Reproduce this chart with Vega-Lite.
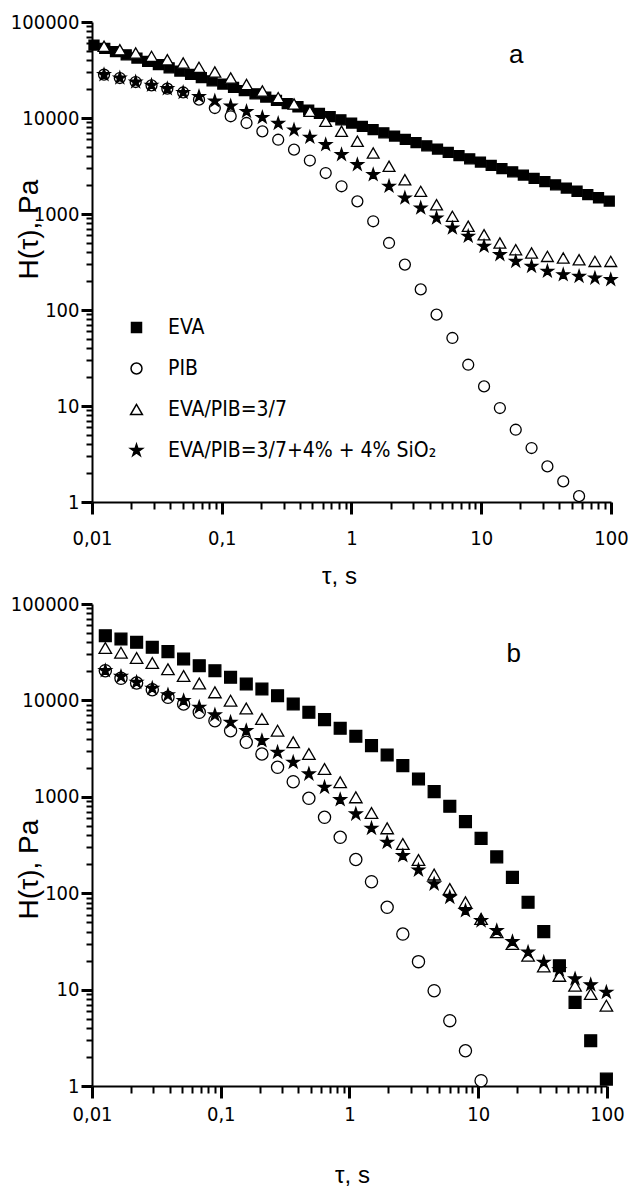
{
 "$schema": "https://vega.github.io/schema/vega-lite/v6.json",
 "background": "white",
 "padding": {"left": 10, "top": 12, "right": 0, "bottom": 0},
 "spacing": 6,
 "config": {
  "view": {"stroke": null},
  "axis": {"grid": false, "ticks": true, "domainColor": "black", "domainWidth": 2, "labelColor": "black", "titleColor": "black", "labelFont": "Liberation Sans Narrow, DejaVu Sans Condensed, sans-serif", "labelFontSize": 20, "labelFlush": false, "labelOverlap": false, "titleFont": "Liberation Sans, Arial, sans-serif", "titleFontWeight": "normal"},
  "legend": {"labelFont": "Liberation Sans Narrow, DejaVu Sans Condensed, sans-serif", "labelFontSize": 21, "labelColor": "black", "rowPadding": 19, "labelOffset": 21, "padding": 0, "symbolOpacity": 1, "labelLimit": 500}
 },
 "datasets": {
  "a": [
   {"series":"EVA","tau":0.01036,"H":57540},{"series":"EVA","tau":0.01254,"H":53230},{"series":"EVA","tau":0.01517,"H":49240},{"series":"EVA","tau":0.01835,"H":45530},{"series":"EVA","tau":0.0222,"H":42130},{"series":"EVA","tau":0.02686,"H":38960},{"series":"EVA","tau":0.03249,"H":36050},{"series":"EVA","tau":0.03931,"H":33340},{"series":"EVA","tau":0.04756,"H":30840},{"series":"EVA","tau":0.05754,"H":28530},{"series":"EVA","tau":0.06962,"H":26390},{"series":"EVA","tau":0.08423,"H":24410},{"series":"EVA","tau":0.1019,"H":22580},{"series":"EVA","tau":0.1233,"H":20890},{"series":"EVA","tau":0.1492,"H":19320},{"series":"EVA","tau":0.1805,"H":17870},{"series":"EVA","tau":0.2183,"H":16530},{"series":"EVA","tau":0.2641,"H":15290},{"series":"EVA","tau":0.3196,"H":14140},{"series":"EVA","tau":0.3866,"H":13090},{"series":"EVA","tau":0.4677,"H":12100},{"series":"EVA","tau":0.5659,"H":11200},{"series":"EVA","tau":0.6846,"H":10350},{"series":"EVA","tau":0.8283,"H":9580},{"series":"EVA","tau":1.002,"H":8862},{"series":"EVA","tau":1.212,"H":8198},{"series":"EVA","tau":1.467,"H":7583},{"series":"EVA","tau":1.775,"H":7015},{"series":"EVA","tau":2.147,"H":6489},{"series":"EVA","tau":2.598,"H":6003},{"series":"EVA","tau":3.143,"H":5552},{"series":"EVA","tau":3.803,"H":5136},{"series":"EVA","tau":4.601,"H":4751},{"series":"EVA","tau":5.567,"H":4395},{"series":"EVA","tau":6.735,"H":4065},{"series":"EVA","tau":8.147,"H":3760},{"series":"EVA","tau":9.856,"H":3478},{"series":"EVA","tau":11.93,"H":3217},{"series":"EVA","tau":14.43,"H":2976},{"series":"EVA","tau":17.46,"H":2753},{"series":"EVA","tau":21.12,"H":2546},{"series":"EVA","tau":25.55,"H":2355},{"series":"EVA","tau":30.92,"H":2179},{"series":"EVA","tau":37.4,"H":2015},{"series":"EVA","tau":45.25,"H":1864},{"series":"EVA","tau":54.74,"H":1725},{"series":"EVA","tau":66.22,"H":1595},{"series":"EVA","tau":80.13,"H":1476},{"series":"EVA","tau":96.94,"H":1365},
   {"series":"PIB","tau":0.01238,"H":28250},{"series":"PIB","tau":0.01639,"H":26100},{"series":"PIB","tau":0.02171,"H":23710},{"series":"PIB","tau":0.02875,"H":21910},{"series":"PIB","tau":0.03807,"H":20190},{"series":"PIB","tau":0.05043,"H":18440},{"series":"PIB","tau":0.06679,"H":15530},{"series":"PIB","tau":0.08845,"H":12700},{"series":"PIB","tau":0.1172,"H":10420},{"series":"PIB","tau":0.1552,"H":8870},{"series":"PIB","tau":0.2056,"H":7265},{"series":"PIB","tau":0.2723,"H":5940},{"series":"PIB","tau":0.3606,"H":4675},{"series":"PIB","tau":0.4776,"H":3607},{"series":"PIB","tau":0.6326,"H":2673},{"series":"PIB","tau":0.838,"H":1944},{"series":"PIB","tau":1.11,"H":1356},{"series":"PIB","tau":1.47,"H":840},{"series":"PIB","tau":1.947,"H":499},{"series":"PIB","tau":2.579,"H":297},{"series":"PIB","tau":3.416,"H":164},{"series":"PIB","tau":4.524,"H":89.4},{"series":"PIB","tau":5.993,"H":51.1},{"series":"PIB","tau":7.937,"H":26.9},{"series":"PIB","tau":10.51,"H":16.0},{"series":"PIB","tau":13.92,"H":9.53},{"series":"PIB","tau":18.44,"H":5.66},{"series":"PIB","tau":24.42,"H":3.65},{"series":"PIB","tau":32.35,"H":2.35},{"series":"PIB","tau":42.85,"H":1.64},{"series":"PIB","tau":56.75,"H":1.15},
   {"series":"EVA/PIB=3/7","tau":0.01238,"H":55850},{"series":"EVA/PIB=3/7","tau":0.01639,"H":51460},{"series":"EVA/PIB=3/7","tau":0.02171,"H":47500},{"series":"EVA/PIB=3/7","tau":0.02875,"H":43880},{"series":"EVA/PIB=3/7","tau":0.03807,"H":40420},{"series":"EVA/PIB=3/7","tau":0.05043,"H":37390},{"series":"EVA/PIB=3/7","tau":0.06679,"H":33740},{"series":"EVA/PIB=3/7","tau":0.08845,"H":30130},{"series":"EVA/PIB=3/7","tau":0.1172,"H":26100},{"series":"EVA/PIB=3/7","tau":0.1552,"H":22340},{"series":"EVA/PIB=3/7","tau":0.2056,"H":19100},{"series":"EVA/PIB=3/7","tau":0.2723,"H":16300},{"series":"EVA/PIB=3/7","tau":0.3606,"H":13990},{"series":"EVA/PIB=3/7","tau":0.4776,"H":11750},{"series":"EVA/PIB=3/7","tau":0.6326,"H":9250},{"series":"EVA/PIB=3/7","tau":0.838,"H":7280},{"series":"EVA/PIB=3/7","tau":1.11,"H":5720},{"series":"EVA/PIB=3/7","tau":1.47,"H":4320},{"series":"EVA/PIB=3/7","tau":1.947,"H":3140},{"series":"EVA/PIB=3/7","tau":2.579,"H":2275},{"series":"EVA/PIB=3/7","tau":3.416,"H":1722},{"series":"EVA/PIB=3/7","tau":4.524,"H":1249},{"series":"EVA/PIB=3/7","tau":5.993,"H":946},{"series":"EVA/PIB=3/7","tau":7.937,"H":745},{"series":"EVA/PIB=3/7","tau":10.51,"H":608},{"series":"EVA/PIB=3/7","tau":13.92,"H":499},{"series":"EVA/PIB=3/7","tau":18.44,"H":425},{"series":"EVA/PIB=3/7","tau":24.42,"H":393},{"series":"EVA/PIB=3/7","tau":32.35,"H":362},{"series":"EVA/PIB=3/7","tau":42.85,"H":348},{"series":"EVA/PIB=3/7","tau":56.75,"H":334},{"series":"EVA/PIB=3/7","tau":75.16,"H":321},{"series":"EVA/PIB=3/7","tau":99.56,"H":321},
   {"series":"EVA/PIB=3/7+4% + 4% SiO₂","tau":0.01238,"H":28250},{"series":"EVA/PIB=3/7+4% + 4% SiO₂","tau":0.01639,"H":26100},{"series":"EVA/PIB=3/7+4% + 4% SiO₂","tau":0.02171,"H":23710},{"series":"EVA/PIB=3/7+4% + 4% SiO₂","tau":0.02875,"H":21910},{"series":"EVA/PIB=3/7+4% + 4% SiO₂","tau":0.03807,"H":20190},{"series":"EVA/PIB=3/7+4% + 4% SiO₂","tau":0.05043,"H":18440},{"series":"EVA/PIB=3/7+4% + 4% SiO₂","tau":0.06679,"H":16750},{"series":"EVA/PIB=3/7+4% + 4% SiO₂","tau":0.08845,"H":15030},{"series":"EVA/PIB=3/7+4% + 4% SiO₂","tau":0.1172,"H":13330},{"series":"EVA/PIB=3/7+4% + 4% SiO₂","tau":0.1552,"H":11690},{"series":"EVA/PIB=3/7+4% + 4% SiO₂","tau":0.2056,"H":10120},{"series":"EVA/PIB=3/7+4% + 4% SiO₂","tau":0.2723,"H":8770},{"series":"EVA/PIB=3/7+4% + 4% SiO₂","tau":0.3606,"H":7500},{"series":"EVA/PIB=3/7+4% + 4% SiO₂","tau":0.4776,"H":6295},{"series":"EVA/PIB=3/7+4% + 4% SiO₂","tau":0.6326,"H":5272},{"series":"EVA/PIB=3/7+4% + 4% SiO₂","tau":0.838,"H":4150},{"series":"EVA/PIB=3/7+4% + 4% SiO₂","tau":1.11,"H":3265},{"series":"EVA/PIB=3/7+4% + 4% SiO₂","tau":1.47,"H":2567},{"series":"EVA/PIB=3/7+4% + 4% SiO₂","tau":1.947,"H":1944},{"series":"EVA/PIB=3/7+4% + 4% SiO₂","tau":2.579,"H":1468},{"series":"EVA/PIB=3/7+4% + 4% SiO₂","tau":3.416,"H":1155},{"series":"EVA/PIB=3/7+4% + 4% SiO₂","tau":4.524,"H":908},{"series":"EVA/PIB=3/7+4% + 4% SiO₂","tau":5.993,"H":714},{"series":"EVA/PIB=3/7+4% + 4% SiO₂","tau":7.937,"H":586},{"series":"EVA/PIB=3/7+4% + 4% SiO₂","tau":10.51,"H":461},{"series":"EVA/PIB=3/7+4% + 4% SiO₂","tau":13.92,"H":377},{"series":"EVA/PIB=3/7+4% + 4% SiO₂","tau":18.44,"H":321},{"series":"EVA/PIB=3/7+4% + 4% SiO₂","tau":24.42,"H":285},{"series":"EVA/PIB=3/7+4% + 4% SiO₂","tau":32.35,"H":253},{"series":"EVA/PIB=3/7+4% + 4% SiO₂","tau":42.85,"H":233},{"series":"EVA/PIB=3/7+4% + 4% SiO₂","tau":56.75,"H":224},{"series":"EVA/PIB=3/7+4% + 4% SiO₂","tau":75.16,"H":215},{"series":"EVA/PIB=3/7+4% + 4% SiO₂","tau":99.56,"H":207}
  ],
  "b": [
   {"series":"EVA","tau":0.01269,"H":46880},{"series":"EVA","tau":0.01679,"H":43330},{"series":"EVA","tau":0.02221,"H":40060},{"series":"EVA","tau":0.02939,"H":35570},{"series":"EVA","tau":0.0389,"H":32010},{"series":"EVA","tau":0.05147,"H":26880},{"series":"EVA","tau":0.06809,"H":22900},{"series":"EVA","tau":0.0901,"H":20320},{"series":"EVA","tau":0.1192,"H":17370},{"series":"EVA","tau":0.1578,"H":14800},{"series":"EVA","tau":0.2088,"H":13130},{"series":"EVA","tau":0.2762,"H":11190},{"series":"EVA","tau":0.3655,"H":9180},{"series":"EVA","tau":0.4836,"H":7530},{"series":"EVA","tau":0.6398,"H":6310},{"series":"EVA","tau":0.8466,"H":5140},{"series":"EVA","tau":1.12,"H":4245},{"series":"EVA","tau":1.482,"H":3390},{"series":"EVA","tau":1.961,"H":2715},{"series":"EVA","tau":2.595,"H":2104},{"series":"EVA","tau":3.434,"H":1531},{"series":"EVA","tau":4.544,"H":1131},{"series":"EVA","tau":6.012,"H":797},{"series":"EVA","tau":7.955,"H":552},{"series":"EVA","tau":10.52,"H":371},{"series":"EVA","tau":13.92,"H":238},{"series":"EVA","tau":18.43,"H":146},{"series":"EVA","tau":24.38,"H":80.5},{"series":"EVA","tau":32.27,"H":39.9},{"series":"EVA","tau":42.69,"H":17.7},{"series":"EVA","tau":56.48,"H":7.38},{"series":"EVA","tau":74.73,"H":2.95},{"series":"EVA","tau":98.9,"H":1.18},
   {"series":"PIB","tau":0.01269,"H":20330},{"series":"PIB","tau":0.01679,"H":16950},{"series":"PIB","tau":0.02221,"H":15150},{"series":"PIB","tau":0.02939,"H":12910},{"series":"PIB","tau":0.0389,"H":10770},{"series":"PIB","tau":0.05147,"H":9177},{"series":"PIB","tau":0.06809,"H":7524},{"series":"PIB","tau":0.0901,"H":6158},{"series":"PIB","tau":0.1192,"H":4850},{"series":"PIB","tau":0.1578,"H":3676},{"series":"PIB","tau":0.2088,"H":2780},{"series":"PIB","tau":0.2762,"H":2023},{"series":"PIB","tau":0.3655,"H":1434},{"series":"PIB","tau":0.4836,"H":965},{"series":"PIB","tau":0.6398,"H":613},{"series":"PIB","tau":0.8466,"H":380},{"series":"PIB","tau":1.12,"H":223.7},{"series":"PIB","tau":1.482,"H":131.6},{"series":"PIB","tau":1.961,"H":71.4},{"series":"PIB","tau":2.595,"H":37.7},{"series":"PIB","tau":3.434,"H":19.5},{"series":"PIB","tau":4.544,"H":9.74},{"series":"PIB","tau":6.012,"H":4.76},{"series":"PIB","tau":7.955,"H":2.32},{"series":"PIB","tau":10.52,"H":1.135},
   {"series":"EVA/PIB=3/7","tau":0.01269,"H":34970},{"series":"EVA/PIB=3/7","tau":0.01679,"H":31250},{"series":"EVA/PIB=3/7","tau":0.02221,"H":27540},{"series":"EVA/PIB=3/7","tau":0.02939,"H":24430},{"series":"EVA/PIB=3/7","tau":0.0389,"H":21020},{"series":"EVA/PIB=3/7","tau":0.05147,"H":17910},{"series":"EVA/PIB=3/7","tau":0.06809,"H":14970},{"series":"EVA/PIB=3/7","tau":0.0901,"H":12130},{"series":"EVA/PIB=3/7","tau":0.1192,"H":9929},{"series":"EVA/PIB=3/7","tau":0.1578,"H":8241},{"series":"EVA/PIB=3/7","tau":0.2088,"H":6414},{"series":"EVA/PIB=3/7","tau":0.2762,"H":4850},{"series":"EVA/PIB=3/7","tau":0.3655,"H":3676},{"series":"EVA/PIB=3/7","tau":0.4836,"H":2780},{"series":"EVA/PIB=3/7","tau":0.6398,"H":1943},{"series":"EVA/PIB=3/7","tau":0.8466,"H":1414},{"series":"EVA/PIB=3/7","tau":1.12,"H":988},{"series":"EVA/PIB=3/7","tau":1.482,"H":679},{"series":"EVA/PIB=3/7","tau":1.961,"H":471},{"series":"EVA/PIB=3/7","tau":2.595,"H":324},{"series":"EVA/PIB=3/7","tau":3.434,"H":221},{"series":"EVA/PIB=3/7","tau":4.544,"H":156},{"series":"EVA/PIB=3/7","tau":6.012,"H":110.5},{"series":"EVA/PIB=3/7","tau":7.955,"H":80.4},{"series":"EVA/PIB=3/7","tau":10.52,"H":54.0},{"series":"EVA/PIB=3/7","tau":13.92,"H":39.3},{"series":"EVA/PIB=3/7","tau":18.43,"H":29.7},{"series":"EVA/PIB=3/7","tau":24.38,"H":22.5},{"series":"EVA/PIB=3/7","tau":32.27,"H":17.4},{"series":"EVA/PIB=3/7","tau":42.69,"H":13.9},{"series":"EVA/PIB=3/7","tau":56.48,"H":10.98},{"series":"EVA/PIB=3/7","tau":74.73,"H":9.0},{"series":"EVA/PIB=3/7","tau":98.9,"H":6.81},
   {"series":"EVA/PIB=3/7+4% + 4% SiO₂","tau":0.01269,"H":20330},{"series":"EVA/PIB=3/7+4% + 4% SiO₂","tau":0.01679,"H":17700},{"series":"EVA/PIB=3/7+4% + 4% SiO₂","tau":0.02221,"H":15410},{"series":"EVA/PIB=3/7+4% + 4% SiO₂","tau":0.02939,"H":13350},{"series":"EVA/PIB=3/7+4% + 4% SiO₂","tau":0.0389,"H":11380},{"series":"EVA/PIB=3/7+4% + 4% SiO₂","tau":0.05147,"H":9929},{"series":"EVA/PIB=3/7+4% + 4% SiO₂","tau":0.06809,"H":8482},{"series":"EVA/PIB=3/7+4% + 4% SiO₂","tau":0.0901,"H":7055},{"series":"EVA/PIB=3/7+4% + 4% SiO₂","tau":0.1192,"H":5928},{"series":"EVA/PIB=3/7+4% + 4% SiO₂","tau":0.1578,"H":4850},{"series":"EVA/PIB=3/7+4% + 4% SiO₂","tau":0.2088,"H":3819},{"series":"EVA/PIB=3/7+4% + 4% SiO₂","tau":0.2762,"H":2894},{"series":"EVA/PIB=3/7+4% + 4% SiO₂","tau":0.3655,"H":2280},{"series":"EVA/PIB=3/7+4% + 4% SiO₂","tau":0.4836,"H":1724},{"series":"EVA/PIB=3/7+4% + 4% SiO₂","tau":0.6398,"H":1254},{"series":"EVA/PIB=3/7+4% + 4% SiO₂","tau":0.8466,"H":933},{"series":"EVA/PIB=3/7+4% + 4% SiO₂","tau":1.12,"H":663},{"series":"EVA/PIB=3/7+4% + 4% SiO₂","tau":1.482,"H":471},{"series":"EVA/PIB=3/7+4% + 4% SiO₂","tau":1.961,"H":337},{"series":"EVA/PIB=3/7+4% + 4% SiO₂","tau":2.595,"H":245},{"series":"EVA/PIB=3/7+4% + 4% SiO₂","tau":3.434,"H":174},{"series":"EVA/PIB=3/7+4% + 4% SiO₂","tau":4.544,"H":124.6},{"series":"EVA/PIB=3/7+4% + 4% SiO₂","tau":6.012,"H":90.7},{"series":"EVA/PIB=3/7+4% + 4% SiO₂","tau":7.955,"H":65.8},{"series":"EVA/PIB=3/7+4% + 4% SiO₂","tau":10.52,"H":51.8},{"series":"EVA/PIB=3/7+4% + 4% SiO₂","tau":13.92,"H":40.8},{"series":"EVA/PIB=3/7+4% + 4% SiO₂","tau":18.43,"H":31.4},{"series":"EVA/PIB=3/7+4% + 4% SiO₂","tau":24.38,"H":24.4},{"series":"EVA/PIB=3/7+4% + 4% SiO₂","tau":32.27,"H":19.2},{"series":"EVA/PIB=3/7+4% + 4% SiO₂","tau":42.69,"H":16.0},{"series":"EVA/PIB=3/7+4% + 4% SiO₂","tau":56.48,"H":12.9},{"series":"EVA/PIB=3/7+4% + 4% SiO₂","tau":74.73,"H":11.2},{"series":"EVA/PIB=3/7+4% + 4% SiO₂","tau":98.9,"H":9.38}
  ]
 },
 "vconcat": [
  {
   "width": 519, "height": 480,
   "resolve": {"axis": {"x": "independent", "y": "independent"}},
   "layer": [
    {
     "data": {"name": "a"},
     "mark": {"type": "point", "filled": true, "stroke": "black", "strokeWidth": 1.3, "opacity": 1},
     "encoding": {
      "x": {"field": "tau", "type": "quantitative", "scale": {"type": "log", "domain": [0.01, 100], "nice": false},
            "axis": {"orient": "bottom", "ticks": true, "tickColor": "#000000", "tickWidth": 3, "title": "τ, s", "titleFontSize": 24, "titleX": 247, "titleY": 81, "titleBaseline": "alphabetic", "titleAlign": "center",
                     "values": [0.01, 0.1, 1, 10, 100], "tickSize": 12, "labelPadding": 14,
                     "encode": {"ticks": {"update": {"stroke": {"value": "#000000"}, "strokeOpacity": {"value": 1}, "opacity": {"value": 1}}}},
                     "labelExpr": "datum.value == 0.01 ? '0,01' : datum.value == 0.1 ? '0,1' : datum.value == 1 ? '1' : datum.value == 10 ? '10' : '100'"}},
      "y": {"field": "H", "type": "quantitative", "scale": {"type": "log", "domain": [1, 100000], "nice": false},
            "axis": {"orient": "left", "ticks": true, "tickColor": "#000000", "tickWidth": 3, "title": "H(τ), Pa", "titleFontSize": 28, "titleX": -55, "titleY": 207, "titleAngle": -90, "titleBaseline": "alphabetic", "titleAlign": "center",
                     "encode": {"ticks": {"update": {"stroke": {"value": "#000000"}, "strokeOpacity": {"value": 1}, "opacity": {"value": 1}}}},
                     "values": [1, 10, 100, 1000, 10000, 100000], "format": "d", "tickSize": 11, "labelPadding": 2}},
      "shape": {"field": "series", "type": "nominal",
                "scale": {"domain": ["EVA", "PIB", "EVA/PIB=3/7", "EVA/PIB=3/7+4% + 4% SiO₂"], "range": ["square", "circle", "triangle-up", "M0,-1L0.2245,-0.309L0.951,-0.309L0.3633,0.118L0.5878,0.809L0,0.382L-0.5878,0.809L-0.3633,0.118L-0.951,-0.309L-0.2245,-0.309Z"]},
                "legend": {"title": null, "orient": "none", "legendX": 34, "legendY": 295, "encode": {"symbols": {"update": {"stroke": {"value": "black"}, "strokeWidth": {"value": 1.3}}}}}},
      "fill": {"field": "series", "type": "nominal",
               "scale": {"domain": ["EVA", "PIB", "EVA/PIB=3/7", "EVA/PIB=3/7+4% + 4% SiO₂"], "range": ["black", "white", "white", "black"]},
               "legend": {"title": null, "orient": "none", "legendX": 34, "legendY": 295, "encode": {"symbols": {"update": {"stroke": {"value": "black"}, "strokeWidth": {"value": 1.3}}}}}},
      "size": {"field": "series", "type": "nominal",
               "scale": {"domain": ["EVA", "PIB", "EVA/PIB=3/7", "EVA/PIB=3/7+4% + 4% SiO₂"], "range": [100, 160, 240, 380]},
               "legend": {"title": null, "orient": "none", "legendX": 34, "legendY": 295, "encode": {"symbols": {"update": {"stroke": {"value": "black"}, "strokeWidth": {"value": 1.3}}}}}}
     }
    },
    {
     "data": {"values": [{}]},
     "mark": {"type": "text", "font": "Liberation Sans, Arial, sans-serif", "fontSize": 26, "fill": "black"},
     "encoding": {
      "x": {"datum": 18.6, "type": "quantitative",
            "axis": {"orient": "bottom", "ticks": true, "tickColor": "#000000", "tickWidth": 2, "title": null, "labels": false, "domain": false, "tickSize": 7,
                     "encode": {"ticks": {"update": {"stroke": {"value": "#000000"}, "strokeOpacity": {"value": 1}, "opacity": {"value": 1}}}},
                     "values": [0.02,0.03,0.04,0.05,0.06,0.07,0.08,0.09,0.2,0.3,0.4,0.5,0.6,0.7,0.8,0.9,2,3,4,5,6,7,8,9,20,30,40,50,60,70,80,90]}},
      "y": {"datum": 45300, "type": "quantitative",
            "axis": {"orient": "left", "ticks": true, "tickColor": "#000000", "tickWidth": 2, "title": null, "labels": false, "domain": false, "tickSize": 6,
                     "encode": {"ticks": {"update": {"stroke": {"value": "#000000"}, "strokeOpacity": {"value": 1}, "opacity": {"value": 1}}}},
                     "values": [2,3,4,5,6,7,8,9,20,30,40,50,60,70,80,90,200,300,400,500,600,700,800,900,2000,3000,4000,5000,6000,7000,8000,9000,20000,30000,40000,50000,60000,70000,80000,90000]}},
      "text": {"value": "a"}
     }
    }
   ]
  },
  {
   "width": 515, "height": 482,
   "resolve": {"axis": {"x": "independent", "y": "independent"}},
   "layer": [
    {
     "data": {"name": "b"},
     "mark": {"type": "point", "filled": true, "stroke": "black", "strokeWidth": 1.3, "opacity": 1},
     "encoding": {
      "x": {"field": "tau", "type": "quantitative", "scale": {"type": "log", "domain": [0.01, 100], "nice": false},
            "axis": {"orient": "bottom", "ticks": true, "tickColor": "#000000", "tickWidth": 3, "title": "τ, s", "titleFontSize": 24, "titleX": 260, "titleY": 96, "titleBaseline": "alphabetic", "titleAlign": "center",
                     "encode": {"ticks": {"update": {"stroke": {"value": "#000000"}, "strokeOpacity": {"value": 1}, "opacity": {"value": 1}}}},
                     "values": [0.01, 0.1, 1, 10, 100], "tickSize": 12, "labelPadding": 6,
                     "labelExpr": "datum.value == 0.01 ? '0,01' : datum.value == 0.1 ? '0,1' : datum.value == 1 ? '1' : datum.value == 10 ? '10' : '100'"}},
      "y": {"field": "H", "type": "quantitative", "scale": {"type": "log", "domain": [1, 100000], "nice": false},
            "axis": {"orient": "left", "ticks": true, "tickColor": "#000000", "tickWidth": 3, "title": "H(τ), Pa", "titleFontSize": 28, "titleX": -55, "titleY": 265, "titleAngle": -90, "titleBaseline": "alphabetic", "titleAlign": "center",
                     "encode": {"ticks": {"update": {"stroke": {"value": "#000000"}, "strokeOpacity": {"value": 1}, "opacity": {"value": 1}}}},
                     "values": [1, 10, 100, 1000, 10000, 100000], "format": "d", "tickSize": 11, "labelPadding": 2}},
      "shape": {"field": "series", "type": "nominal",
                "scale": {"domain": ["EVA", "PIB", "EVA/PIB=3/7", "EVA/PIB=3/7+4% + 4% SiO₂"], "range": ["square", "circle", "triangle-up", "M0,-1L0.2245,-0.309L0.951,-0.309L0.3633,0.118L0.5878,0.809L0,0.382L-0.5878,0.809L-0.3633,0.118L-0.951,-0.309L-0.2245,-0.309Z"]},
                "legend": null},
      "fill": {"field": "series", "type": "nominal",
               "scale": {"domain": ["EVA", "PIB", "EVA/PIB=3/7", "EVA/PIB=3/7+4% + 4% SiO₂"], "range": ["black", "white", "white", "black"]},
               "legend": null},
      "size": {"field": "series", "type": "nominal",
               "scale": {"domain": ["EVA", "PIB", "EVA/PIB=3/7", "EVA/PIB=3/7+4% + 4% SiO₂"], "range": [140, 165, 250, 390]},
               "legend": null}
     }
    },
    {
     "data": {"values": [{}]},
     "mark": {"type": "text", "font": "Liberation Sans, Arial, sans-serif", "fontSize": 26, "fill": "black"},
     "encoding": {
      "x": {"datum": 18.9, "type": "quantitative",
            "axis": {"orient": "bottom", "ticks": true, "tickColor": "#000000", "tickWidth": 2, "title": null, "labels": false, "domain": false, "tickSize": 7,
                     "encode": {"ticks": {"update": {"stroke": {"value": "#000000"}, "strokeOpacity": {"value": 1}, "opacity": {"value": 1}}}},
                     "values": [0.02,0.03,0.04,0.05,0.06,0.07,0.08,0.09,0.2,0.3,0.4,0.5,0.6,0.7,0.8,0.9,2,3,4,5,6,7,8,9,20,30,40,50,60,70,80,90]}},
      "y": {"datum": 30300, "type": "quantitative",
            "axis": {"orient": "left", "ticks": true, "tickColor": "#000000", "tickWidth": 2, "title": null, "labels": false, "domain": false, "tickSize": 6,
                     "encode": {"ticks": {"update": {"stroke": {"value": "#000000"}, "strokeOpacity": {"value": 1}, "opacity": {"value": 1}}}},
                     "values": [2,3,4,5,6,7,8,9,20,30,40,50,60,70,80,90,200,300,400,500,600,700,800,900,2000,3000,4000,5000,6000,7000,8000,9000,20000,30000,40000,50000,60000,70000,80000,90000]}},
      "text": {"value": "b"}
     }
    }
   ]
  }
 ],
 "resolve": {"scale": {"x": "independent", "y": "independent", "shape": "independent", "fill": "independent", "size": "independent"},
             "legend": {"shape": "independent", "fill": "independent", "size": "independent"}}
}
